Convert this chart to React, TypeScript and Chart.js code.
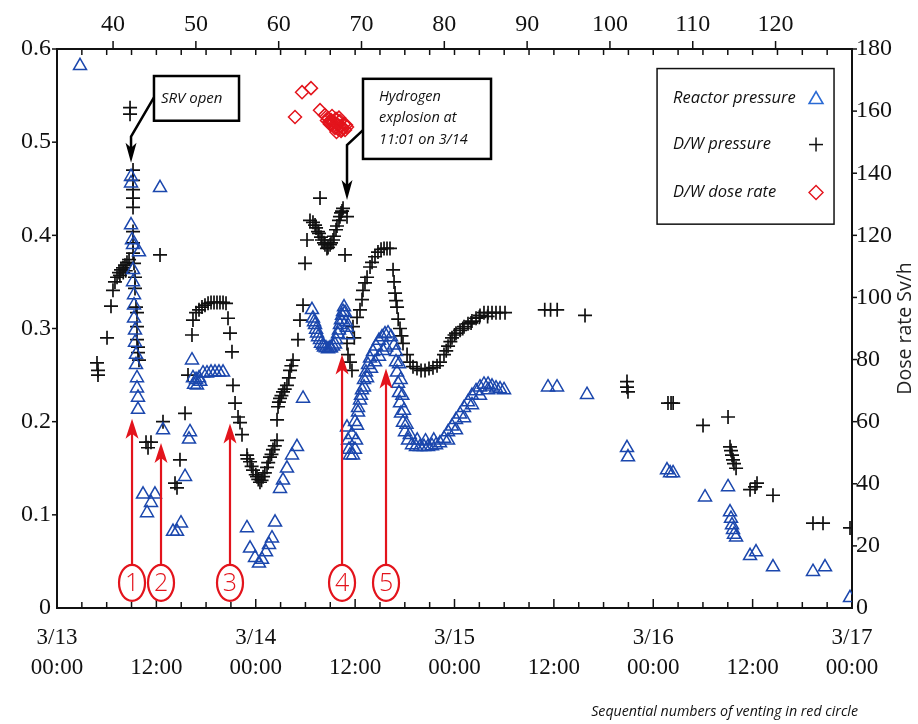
import React, { useEffect, useRef } from 'react';
import { Chart, registerables } from 'chart.js';

Chart.register(...registerables);

// ---------- labels ----------
const dayLabels = ['3/13', '3/14', '3/15', '3/16', '3/17'];
const midnightLabel = '00:00';
const noonLabel = '12:00';
const topTickValues = [40, 50, 60, 70, 80, 90, 100, 110, 120];
const topAxisOffset = 33.23; // hours from 3/11 14:46 to 3/13 00:00
const legendLabels = ['Reactor pressure', 'D/W pressure', 'D/W dose rate'];
const srvText = ['SRV open'];
const explosionText = ['Hydrogen', 'explosion at', '11:01 on 3/14'];
const captionText = 'Sequential numbers of venting in red circle';
const rightTitle = 'Dose rate Sv/h';

// ---------- Reactor pressure (hours after 3/13 00:00, MPa) ----------
const rpHours = [
  2.78,
  8.94, 8.94, 8.94, 9.06, 9.18, 9.90, 9.18, 9.18, 9.30, 9.30, 9.30, 9.42, 9.42, 9.54, 9.54, 9.66, 9.66, 9.78, 9.78,
  10.39, 11.83, 11.35, 10.87, 12.44, 12.80,
  14.01, 14.49, 14.97, 15.46, 16.06, 15.94,
  16.30, 16.42, 16.79, 17.15, 17.63, 18.11, 18.60, 19.08, 19.56, 20.05, 16.55, 16.90, 17.30,
  22.94, 23.31, 23.91, 24.39, 24.76, 25.24, 25.60, 25.96, 26.33,
  26.93, 27.29, 27.77, 28.38, 28.98, 29.71,
  30.79, 30.91, 31.04, 31.16, 31.28, 31.40, 31.52, 31.76, 31.88, 32.12, 32.24, 32.48, 32.73, 32.97, 33.09, 33.33,
  33.57, 33.69, 33.93, 34.05, 34.17, 34.29, 34.42, 34.54, 34.66, 34.78, 34.90, 35.02, 35.14,
  35.02, 35.14, 35.26, 35.38, 35.74, 35.99, 36.11, 36.23, 36.35, 36.59, 36.83, 37.07, 37.31, 37.56, 37.80, 38.16,
  38.52, 38.88, 39.25, 39.61, 39.97, 40.33, 40.70,
  35.62, 35.99, 36.35, 36.71, 37.07, 37.44, 37.92, 38.40, 38.88, 39.37, 39.73,
  40.94, 40.94, 41.06, 41.18, 41.30, 41.42, 41.54, 41.78, 42.02, 42.39, 42.87,
  41.30, 41.50, 41.70, 41.90, 42.20, 42.60,
  43.35, 43.84, 44.32, 44.80, 45.28, 45.77, 46.25, 43.50, 44.50, 45.50,
  46.73, 47.22, 47.70, 48.18, 48.67, 49.15, 49.63, 50.11, 50.60, 51.08, 51.56, 52.05, 52.53, 53.01, 53.50, 53.98,
  47.22, 48.18, 49.15, 50.11, 51.08, 52.05,
  59.29, 60.38, 64.00, 68.83, 68.95, 73.66, 74.03, 74.39, 78.25, 81.03, 81.27, 81.39, 81.51, 81.63, 81.75, 82.00,
  83.69, 84.41, 86.46, 91.29, 92.74, 95.76,
];
const rpValues = [
  0.582,
  0.463, 0.456, 0.411, 0.395, 0.390, 0.382, 0.363, 0.350, 0.336, 0.325, 0.311, 0.298, 0.285, 0.272, 0.261, 0.247, 0.236, 0.226, 0.213,
  0.122, 0.122, 0.113, 0.102, 0.451, 0.191,
  0.082, 0.082, 0.091, 0.141, 0.189, 0.181,
  0.266, 0.247, 0.245, 0.247, 0.252, 0.252, 0.253, 0.253, 0.253, 0.253, 0.240, 0.239, 0.243,
  0.086, 0.064, 0.054, 0.048, 0.052, 0.060, 0.068, 0.075, 0.092,
  0.128, 0.137, 0.150, 0.164, 0.173, 0.225,
  0.320, 0.311, 0.307, 0.304, 0.299, 0.295, 0.291, 0.288, 0.284, 0.282, 0.280, 0.279, 0.278, 0.279, 0.279, 0.281,
  0.283, 0.288, 0.294, 0.298, 0.304, 0.309, 0.314, 0.318, 0.323, 0.317, 0.307, 0.301, 0.293,
  0.194, 0.180, 0.170, 0.164, 0.164, 0.170, 0.180, 0.196, 0.210, 0.223, 0.234, 0.245, 0.253, 0.261, 0.268, 0.275,
  0.281, 0.287, 0.291, 0.294, 0.295, 0.291, 0.282,
  0.186, 0.200, 0.215, 0.228, 0.237, 0.247, 0.257, 0.264, 0.270, 0.276, 0.280,
  0.275, 0.264, 0.253, 0.241, 0.231, 0.220, 0.209, 0.199, 0.189, 0.180, 0.175,
  0.262, 0.245, 0.228, 0.212, 0.197, 0.186,
  0.173, 0.173, 0.173, 0.173, 0.174, 0.175, 0.177, 0.180, 0.179, 0.180,
  0.182, 0.189, 0.195, 0.202, 0.208, 0.215, 0.221, 0.228, 0.233, 0.237, 0.240, 0.240, 0.238, 0.236, 0.235, 0.234,
  0.180, 0.191, 0.204, 0.218, 0.228, 0.234,
  0.237, 0.237, 0.229, 0.172, 0.162, 0.148, 0.145, 0.145, 0.119, 0.130, 0.103, 0.096, 0.089, 0.084, 0.079, 0.076,
  0.056, 0.060, 0.044, 0.039, 0.044, 0.011,
];

// ---------- D/W pressure (hours, MPa) ----------
const dwHours = [
  4.83, 4.95, 4.95, 6.04, 6.52, 6.76, 7.00, 7.25, 7.49, 7.73, 7.97, 8.21, 8.45, 8.70, 7.60, 8.00, 8.30,
  8.82, 8.82, 9.18, 9.18, 9.18, 9.18, 9.18, 9.18, 9.18, 9.18, 9.30, 9.42, 9.42, 9.54, 9.66, 9.66, 9.66, 9.78, 9.78, 9.90,
  12.44, 10.75, 11.35, 10.99, 12.80, 15.46, 14.85, 14.25, 14.49, 15.82,
  16.30, 16.42, 16.79, 17.15, 17.51, 17.87, 18.24, 18.60, 18.96, 19.32, 19.68, 20.05, 20.41, 20.65, 20.89, 21.13,
  21.25, 21.50, 21.86, 22.10, 22.34, 22.94, 23.31, 23.67, 24.15, 24.51, 24.88, 25.36, 25.72, 26.08, 26.57,
  23.00, 23.50, 24.00, 24.30, 24.70, 25.10, 25.50, 25.90, 26.30,
  26.57, 26.69, 26.93, 27.29, 27.77, 28.14, 28.50, 29.10, 29.34, 29.71, 26.80, 27.10, 27.50, 28.00, 28.30,
  29.95, 30.19, 30.55, 31.76,
  30.91, 31.16, 31.28, 31.52, 31.64, 31.88, 32.00, 32.24, 32.36, 32.60, 32.73, 32.97, 33.09, 33.33, 33.45, 33.69,
  33.81, 34.05, 34.17, 34.30, 34.42, 34.54, 35.02, 34.78,
  35.02, 35.14, 35.38, 35.62, 35.74, 35.90, 36.23, 36.59, 36.83, 36.95, 37.19, 37.44, 37.80, 38.04, 38.40, 38.76,
  39.13, 39.49, 39.85, 40.21, 40.58, 40.82, 41.06, 41.42, 41.78, 42.27, 42.63, 42.99, 43.47, 43.96, 44.44, 44.92,
  45.40, 45.89, 40.70, 40.95, 41.20, 41.60,
  46.25, 46.73, 47.22, 47.70, 48.18, 48.67, 49.15, 49.63, 50.11, 50.60, 51.08, 51.56, 52.05, 52.53, 53.01, 53.50, 54.10,
  47.00, 47.50, 48.00, 49.00, 50.00, 51.00, 52.00,
  58.90, 59.60, 60.40, 63.76, 68.83, 68.83, 68.95, 73.78, 74.15, 74.40, 78.01, 81.03, 81.27, 81.39, 81.51, 81.63,
  81.75, 82.00, 83.69, 84.29, 84.53, 86.46, 91.29, 92.50, 95.76,
];
const dwValues = [
  0.263, 0.255, 0.250, 0.290, 0.324, 0.341, 0.350, 0.355, 0.360, 0.363, 0.365, 0.368, 0.371, 0.374, 0.357, 0.360, 0.362,
  0.537, 0.530, 0.470, 0.459, 0.449, 0.440, 0.430, 0.404, 0.392, 0.381, 0.370, 0.355, 0.343, 0.323, 0.317, 0.302, 0.288, 0.280, 0.274, 0.266,
  0.379, 0.178, 0.178, 0.172, 0.200, 0.209, 0.159, 0.134, 0.129, 0.250,
  0.293, 0.309, 0.317, 0.320, 0.323, 0.325, 0.327, 0.328, 0.328, 0.328, 0.328, 0.328, 0.327, 0.311, 0.295, 0.275,
  0.239, 0.220, 0.205, 0.199, 0.186, 0.164, 0.157, 0.148, 0.141, 0.135, 0.141, 0.151, 0.162, 0.170, 0.180,
  0.160, 0.152, 0.143, 0.138, 0.137, 0.145, 0.156, 0.165, 0.174,
  0.202, 0.216, 0.225, 0.232, 0.239, 0.255, 0.266, 0.288, 0.309, 0.325, 0.221, 0.228, 0.235, 0.247, 0.260,
  0.370, 0.395, 0.416, 0.440,
  0.414, 0.411, 0.408, 0.404, 0.402, 0.398, 0.395, 0.392, 0.390, 0.386, 0.387, 0.390, 0.392, 0.395, 0.399, 0.406,
  0.410, 0.416, 0.420, 0.424, 0.426, 0.429, 0.420, 0.379,
  0.284, 0.272, 0.264, 0.255, 0.302, 0.290, 0.312, 0.320, 0.331, 0.341, 0.349, 0.355, 0.366, 0.371, 0.377, 0.382,
  0.385, 0.386, 0.386, 0.386, 0.363, 0.338, 0.323, 0.300, 0.284, 0.272, 0.264, 0.259, 0.257, 0.255, 0.255, 0.257,
  0.258, 0.260, 0.350, 0.330, 0.310, 0.292,
  0.264, 0.272, 0.281, 0.290, 0.295, 0.298, 0.302, 0.305, 0.308, 0.311, 0.314, 0.317, 0.317, 0.317, 0.317, 0.317, 0.317,
  0.276, 0.286, 0.293, 0.300, 0.306, 0.312, 0.313,
  0.320, 0.320, 0.320, 0.314, 0.243, 0.237, 0.232, 0.220, 0.220, 0.220, 0.196, 0.205, 0.173, 0.169, 0.164, 0.159,
  0.155, 0.150, 0.127, 0.130, 0.134, 0.121, 0.091, 0.091, 0.086,
];

// ---------- D/W dose rate (hours, Sv/h) ----------
const doseHours = [
  28.74, 29.59, 30.67, 31.76, 32.36, 32.73, 33.09, 33.45, 33.81, 34.17, 34.54, 34.78, 33.21, 33.69, 34.17, 34.66,
  35.02, 32.97, 33.57, 34.30, 32.60, 32.90, 33.30, 33.90, 34.40, 34.90, 33.75, 34.05,
];
const doseValues = [
  158.1, 166.1, 167.4, 160.3, 158.7, 157.8, 157.1, 156.5, 155.8, 155.2, 154.6, 153.9, 158.4, 157.5, 156.8, 155.8,
  154.9, 155.8, 154.6, 153.6, 157.0, 156.6, 156.0, 154.3, 154.0, 155.5, 153.3, 157.9,
];

// ---------- venting events ----------
const ventHours = [9.06, 12.56, 20.89, 34.42, 39.73];
const ventTipValues = [0.203, 0.177, 0.198, 0.272, 0.257];
const ventNumbers = ['1', '2', '3', '4', '5'];

const BLUE = '#1b47ad';
const RED = '#e3141c';
const SERIF = "'Liberation Serif', 'Times New Roman', serif";
const SANS = "'Open Sans', 'Noto Sans', sans-serif";

const toPoints = (xs: number[], ys: number[]) => xs.map((x, i) => ({ x, y: ys[i] }));

function line(ctx: any, x1: number, y1: number, x2: number, y2: number) {
  ctx.beginPath();
  ctx.moveTo(x1, y1);
  ctx.lineTo(x2, y2);
  ctx.stroke();
}

function arrowHead(ctx: any, x: number, tipY: number, w: number, h: number, dir: number, color: string) {
  ctx.fillStyle = color;
  ctx.beginPath();
  ctx.moveTo(x, tipY);
  ctx.lineTo(x - w / 2, tipY - dir * h);
  ctx.lineTo(x, tipY - dir * h * 0.75);
  ctx.lineTo(x + w / 2, tipY - dir * h);
  ctx.closePath();
  ctx.fill();
}

const overlayPlugin = {
  id: 'overlay',
  afterDraw(chart: any) {
    const { ctx, chartArea: a, scales } = chart;
    const X = (h: number) => scales.x.getPixelForValue(h);
    const Y = (v: number) => scales.y.getPixelForValue(v);
    ctx.save();

    // tick marks
    ctx.strokeStyle = '#111';
    ctx.lineWidth = 1.5;
    for (let h = 3; h < 96; h += 3) {
      const px = X(h);
      const len = h % 12 === 0 ? 9 : 6;
      line(ctx, px, a.bottom, px, a.bottom - len);
      line(ctx, px, a.top, px, a.top + 6);
    }
    topTickValues.forEach((t) => {
      const px = scales.x2.getPixelForValue(t);
      line(ctx, px, a.top, px, a.top - 8);
    });
    for (let i = 1; i <= 6; i++) {
      const py = Y(i / 10);
      line(ctx, a.left - 5, py, a.left, py);
    }
    for (let d = 20; d <= 180; d += 20) {
      const py = scales.y2.getPixelForValue(d);
      line(ctx, a.right, py, a.right + 5, py);
    }

    // venting arrows
    ventHours.forEach((h, i) => {
      const cx = X(h);
      const cy = Y(0.027);
      const rx = 13, ry = 18;
      ctx.strokeStyle = RED;
      ctx.lineWidth = 2.2;
      ctx.beginPath();
      ctx.ellipse(cx, cy, rx, ry, 0, 0, Math.PI * 2);
      ctx.stroke();
      const tip = Y(ventTipValues[i]);
      line(ctx, cx, cy - ry, cx, tip + 12);
      arrowHead(ctx, cx, tip, 13, 20, -1, RED);
      ctx.fillStyle = RED;
      ctx.font = `300 25px ${SANS}`;
      ctx.textAlign = 'center';
      ctx.textBaseline = 'middle';
      ctx.fillText(ventNumbers[i], cx, cy + 1);
    });

    // SRV box + arrow
    ctx.strokeStyle = '#000';
    ctx.lineWidth = 2.5;
    ctx.beginPath();
    ctx.moveTo(X(11.71), Y(0.548));
    ctx.lineTo(X(8.94), Y(0.506));
    ctx.lineTo(X(8.94), Y(0.478) - 12);
    ctx.stroke();
    arrowHead(ctx, X(8.94), Y(0.478), 11, 20, 1, '#000');
    {
      const l = X(11.71), r = X(21.98), t = Y(0.571), b = Y(0.523);
      ctx.fillStyle = '#fff';
      ctx.fillRect(l, t, r - l, b - t);
      ctx.strokeRect(l, t, r - l, b - t);
      ctx.fillStyle = '#111';
      ctx.font = `italic 15px ${SANS}`;
      ctx.textAlign = 'left';
      ctx.textBaseline = 'middle';
      ctx.fillText(srvText[0], l + 7, (t + b) / 2);
    }

    // hydrogen explosion box + arrow
    ctx.beginPath();
    ctx.moveTo(X(36.95), Y(0.513));
    ctx.lineTo(X(35.02), Y(0.497));
    ctx.lineTo(X(35.02), Y(0.438) - 12);
    ctx.stroke();
    arrowHead(ctx, X(35.02), Y(0.438), 11, 20, 1, '#000');
    {
      const l = X(36.95), r = X(52.41), t = Y(0.568), b = Y(0.482);
      ctx.fillStyle = '#fff';
      ctx.fillRect(l, t, r - l, b - t);
      ctx.strokeRect(l, t, r - l, b - t);
      ctx.fillStyle = '#111';
      ctx.font = `italic 14.5px ${SANS}`;
      ctx.textAlign = 'left';
      ctx.textBaseline = 'middle';
      explosionText.forEach((s, i) => ctx.fillText(s, l + 16, t + 18 + i * 21.5));
    }

    // legend
    {
      const l = X(72.46), r = X(93.83), t = Y(0.579), b = Y(0.412);
      ctx.fillStyle = '#fff';
      ctx.fillRect(l, t, r - l, b - t);
      ctx.strokeStyle = '#111';
      ctx.lineWidth = 1.5;
      ctx.strokeRect(l, t, r - l, b - t);
      const rows = [t + 30, t + 76, t + 124];
      ctx.font = `italic 16.5px ${SANS}`;
      ctx.textAlign = 'left';
      ctx.textBaseline = 'middle';
      ctx.fillStyle = '#111';
      legendLabels.forEach((s, i) => ctx.fillText(s, l + 16, rows[i]));
      const mx = r - 18;
      // triangle
      ctx.strokeStyle = '#2a6ad4';
      ctx.lineWidth = 1.6;
      ctx.beginPath();
      const rr = 8;
      for (let k = 0; k < 3; k++) {
        const ang = (k * 2 * Math.PI) / 3;
        const px = mx + Math.sin(ang) * rr;
        const py = rows[0] + 1 - Math.cos(ang) * rr;
        if (k === 0) ctx.moveTo(px, py);
        else ctx.lineTo(px, py);
      }
      ctx.closePath();
      ctx.stroke();
      // cross
      ctx.strokeStyle = '#111';
      ctx.lineWidth = 1.5;
      line(ctx, mx - 7, rows[1], mx + 7, rows[1]);
      line(ctx, mx, rows[1] - 7, mx, rows[1] + 7);
      // diamond
      ctx.strokeStyle = RED;
      ctx.lineWidth = 1.4;
      ctx.beginPath();
      ctx.moveTo(mx, rows[2] - 7);
      ctx.lineTo(mx + 7, rows[2]);
      ctx.lineTo(mx, rows[2] + 7);
      ctx.lineTo(mx - 7, rows[2]);
      ctx.closePath();
      ctx.stroke();
    }

    // right axis title
    ctx.save();
    ctx.translate(905, (a.top + a.bottom) / 2);
    ctx.rotate(-Math.PI / 2);
    ctx.fillStyle = '#222';
    ctx.font = `19.5px ${SANS}`;
    ctx.textAlign = 'center';
    ctx.textBaseline = 'middle';
    ctx.fillText(rightTitle, 0, 0);
    ctx.restore();

    // caption
    ctx.fillStyle = '#111';
    ctx.font = `italic 14.2px ${SANS}`;
    ctx.textAlign = 'right';
    ctx.textBaseline = 'middle';
    ctx.fillText(captionText, 858, 712);

    ctx.restore();
  },
};

export default function App() {
  const ref = useRef<HTMLCanvasElement>(null);

  useEffect(() => {
    if (!ref.current) return;
    const tickFont = { family: SERIF, size: 24 };
    const chart = new Chart(ref.current, {
      type: 'scatter',
      data: {
        datasets: [
          {
            label: legendLabels[0],
            data: toPoints(rpHours, rpValues),
            pointStyle: 'triangle',
            pointRadius: 7.5,
            borderColor: BLUE,
            backgroundColor: 'rgba(0,0,0,0)',
            borderWidth: 1.5,
            xAxisID: 'x',
            yAxisID: 'y',
          },
          {
            label: legendLabels[1],
            data: toPoints(dwHours, dwValues),
            pointStyle: 'cross',
            pointRadius: 7,
            borderColor: '#111',
            backgroundColor: '#111',
            borderWidth: 1.7,
            xAxisID: 'x',
            yAxisID: 'y',
          },
          {
            label: legendLabels[2],
            data: toPoints(doseHours, doseValues),
            pointStyle: 'rectRot',
            pointRadius: 6.5,
            borderColor: RED,
            backgroundColor: 'rgba(0,0,0,0)',
            borderWidth: 1.5,
            xAxisID: 'x',
            yAxisID: 'y2',
          },
        ],
      },
      options: {
        responsive: false,
        animation: false,
        devicePixelRatio: 1,
        layout: { padding: 0 },
        plugins: {
          legend: { display: false },
          tooltip: { enabled: false },
          title: { display: false },
        },
        scales: {
          x: {
            type: 'linear',
            position: 'bottom',
            min: 0,
            max: 96,
            grid: { display: false, drawTicks: false },
            border: { display: true, color: '#111', width: 2 },
            ticks: {
              stepSize: 12,
              autoSkip: false,
              maxRotation: 0,
              padding: 15,
              color: '#111',
              font: { family: SERIF, size: 23, lineHeight: 1.3 },
              callback: (v: any) => {
                const n = Number(v);
                if (n % 24 === 0) return [dayLabels[n / 24], midnightLabel];
                if (n % 12 === 0) return ['', noonLabel];
                return '';
              },
            },
            afterFit: (s: any) => {
              s.height = 116;
            },
          },
          x2: {
            type: 'linear',
            position: 'top',
            min: topAxisOffset,
            max: topAxisOffset + 96,
            grid: { display: false, drawTicks: false },
            border: { display: true, color: '#111', width: 2 },
            ticks: {
              autoSkip: false,
              maxRotation: 0,
              padding: 10,
              color: '#111',
              font: tickFont,
              callback: (v: any) => String(v),
            },
            afterBuildTicks: (s: any) => {
              s.ticks = topTickValues.map((value) => ({ value }));
            },
            afterFit: (s: any) => {
              s.height = 49;
            },
          },
          y: {
            type: 'linear',
            position: 'left',
            min: 0,
            max: 0.6,
            grid: { display: false, drawTicks: false },
            border: { display: true, color: '#111', width: 2 },
            ticks: {
              stepSize: 0.1,
              padding: 6,
              color: '#111',
              font: tickFont,
              callback: (v: any) => (Number(v) === 0 ? '0' : Number(v).toFixed(1)),
            },
            afterFit: (s: any) => {
              s.width = 57;
            },
          },
          y2: {
            type: 'linear',
            position: 'right',
            min: 0,
            max: 180,
            grid: { display: false, drawTicks: false },
            border: { display: true, color: '#111', width: 2 },
            ticks: {
              stepSize: 20,
              padding: 4,
              color: '#111',
              font: tickFont,
              callback: (v: any) => String(v),
            },
            afterFit: (s: any) => {
              s.width = 66;
            },
          },
        },
      },
      plugins: [overlayPlugin],
    } as any);
    return () => chart.destroy();
  }, []);

  return (
    <div style={{ position: 'absolute', left: 0, top: 0, width: 918, height: 724, background: '#fff' }}>
      <canvas ref={ref} width={918} height={724} style={{ display: 'block' }} />
    </div>
  );
}
